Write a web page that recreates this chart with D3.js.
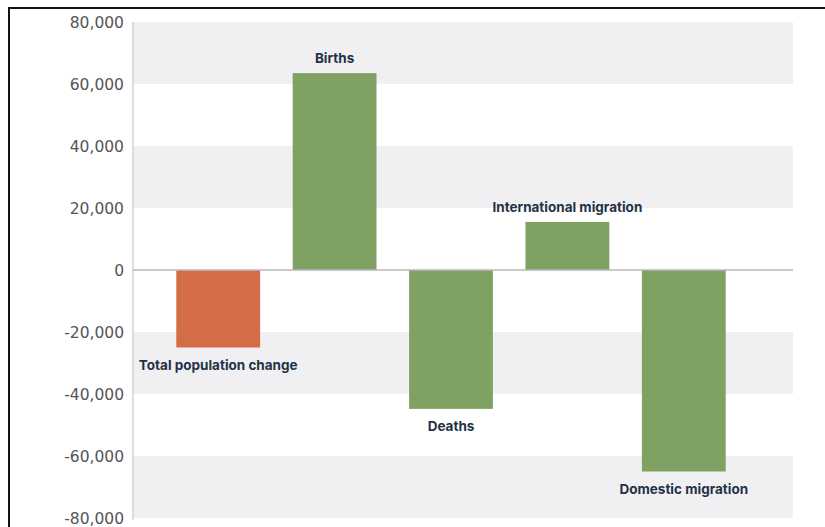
<!DOCTYPE html>
<html>
<head>
<meta charset="utf-8">
<script src="https://cdn.jsdelivr.net/npm/d3@7"></script>
<style>
  body { margin: 0; background: #fff; }
  svg { display: block; }
  .tick-label { font-family: 'DejaVu Sans', sans-serif; font-size: 15.5px; fill: #555; }
  .bar-label { font-family: Inter, 'Open Sans', sans-serif; font-size: 13.5px; font-weight: 700; fill: #233246; }
</style>
</head>
<body>
<div class="graph-container"></div>
<script>
// components of population change
var categories = ['Total population change', 'Births', 'Deaths', 'International migration', 'Domestic migration'];
var values = [-25000, 63500, -44800, 15500, -65000];
var isTotal = [true, false, false, false, false];
// y axis ticks
var tickValues = [80000, 60000, 40000, 20000, 0, -20000, -40000, -60000, -80000];
// shaded bands (from, to)
var bandsFrom = [60000, 20000, -40000, -80000];
var bandsTo = [80000, 40000, -20000, -60000];

var svgWidth = 825;
var svgHeight = 527;
var plotLeft = 133;
var plotRight = 793;

var yScale = d3.scaleLinear()
    .domain([-80000, 80000])
    .range([518, 22]);

var xScale = d3.scaleBand()
    .domain(categories)
    .range([160, 742])
    .paddingInner(0.28)
    .paddingOuter(0.14);

var svg = d3.select('.graph-container').append('svg')
    .attr('width', svgWidth)
    .attr('height', svgHeight);

// frame
svg.append('path')
    .attr('d', 'M9,' + svgHeight + 'V8H' + svgWidth)
    .attr('fill', 'none')
    .attr('stroke', '#111')
    .attr('stroke-width', 2);

// gray bands
svg.selectAll('rect.band')
    .data(bandsFrom)
    .enter()
    .append('rect')
    .attr('class', 'band')
    .attr('x', plotLeft)
    .attr('width', plotRight - plotLeft)
    .attr('y', function(d, i) { return yScale(bandsTo[i]); })
    .attr('height', function(d, i) { return yScale(d) - yScale(bandsTo[i]); })
    .attr('fill', '#f0f0f2');

// y axis labels only, plain hyphen for negatives
var fmt = d3.format(',');
var yAxis = d3.axisLeft(yScale)
    .tickValues(tickValues)
    .tickSize(0)
    .tickPadding(0)
    .tickFormat(function(d) { return fmt(d).replace('\u2212', '-'); });

var yAxisG = svg.append('g')
    .attr('transform', 'translate(124,0)')
    .call(yAxis);
yAxisG.select('.domain').remove();
yAxisG.selectAll('text')
    .attr('class', 'tick-label')
    .attr('fill', null)
    .attr('dy', '0.35em');

// vertical axis line
svg.append('line')
    .attr('x1', plotLeft).attr('x2', plotLeft)
    .attr('y1', yScale(80000)).attr('y2', yScale(-80000) + 2)
    .attr('stroke', '#bdbdbd')
    .attr('stroke-width', 1);

// bars
svg.selectAll('rect.bar')
    .data(values)
    .enter()
    .append('rect')
    .attr('class', 'bar')
    .attr('x', function(d, i) { return xScale(categories[i]); })
    .attr('width', xScale.bandwidth())
    .attr('y', function(d) { return yScale(Math.max(0, d)); })
    .attr('height', function(d) { return Math.abs(yScale(d) - yScale(0)); })
    .attr('fill', function(d, i) { return isTotal[i] ? '#d46c45' : '#7fa263'; });

// zero line
svg.append('line')
    .attr('x1', plotLeft).attr('x2', plotRight)
    .attr('y1', yScale(0)).attr('y2', yScale(0))
    .attr('stroke', '#b8b8b8')
    .attr('stroke-width', 1.5);

// bar labels
svg.selectAll('text.bar-label')
    .data(values)
    .enter()
    .append('text')
    .attr('class', 'bar-label')
    .attr('text-anchor', 'middle')
    .attr('x', function(d, i) { return xScale(categories[i]) + xScale.bandwidth() / 2; })
    .attr('y', function(d) { return d >= 0 ? yScale(d) - 10 : yScale(d) + 22; })
    .text(function(d, i) { return categories[i]; });
</script>
</body>
</html>
